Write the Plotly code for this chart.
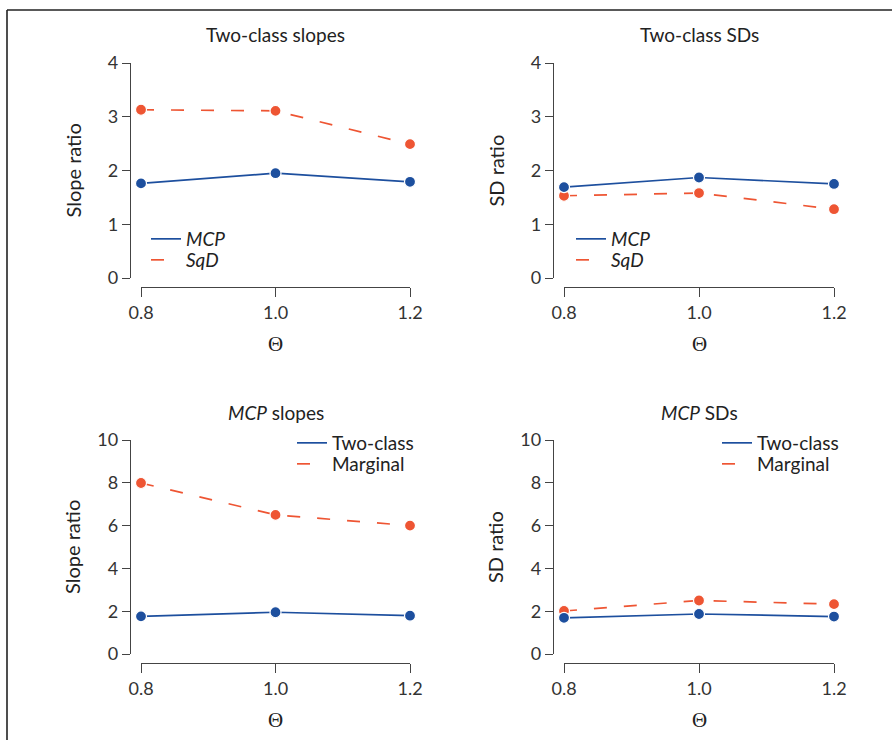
import plotly.graph_objects as go

W, H = 892, 740

theta = [0.8, 1.0, 1.2]
theta_ticks = ["0.8", "1.0", "1.2"]

# Panel 1: Two-class slopes
slope_mcp = [1.76, 1.95, 1.79]
slope_sqd = [3.13, 3.11, 2.49]
# Panel 2: Two-class SDs
sd_mcp = [1.69, 1.87, 1.75]
sd_sqd = [1.53, 1.58, 1.28]
# Panel 3: MCP slopes
mcp_slope_twoclass = [1.76, 1.95, 1.79]
mcp_slope_marginal = [7.99, 6.50, 6.00]
# Panel 4: MCP SDs
mcp_sd_twoclass = [1.69, 1.87, 1.75]
mcp_sd_marginal = [2.01, 2.50, 2.33]

titles = ["Two-class slopes", "Two-class SDs", "<i>MCP</i> slopes", "<i>MCP</i> SDs"]
ytitles = ["Slope ratio", "SD ratio", "Slope ratio", "SD ratio"]
legend_names = [["<i>MCP</i>", "<i>SqD</i>"], ["<i>MCP</i>", "<i>SqD</i>"],
                ["Two-class", "Marginal"], ["Two-class", "Marginal"]]
yticks_small = [0, 1, 2, 3, 4]
yticks_big = [0, 2, 4, 6, 8, 10]

BLUE = "#1d4f9e"
RED = "#ee5533"
AXC = "#444444"
FONT = "Lato"

def px(x):
    return x / W

def py(y):
    return 1 - y / H

# pixel layout of each panel: (yaxis x, x0, x1, ytop, ybot, xaxis y)
panels = [
    (130, 141, 410, 63, 278, 287),
    (553, 564, 834, 63, 278, 287),
    (130, 141, 410, 440, 654, 663),
    (553, 564, 834, 440, 654, 663),
]
series = [
    (slope_mcp, slope_sqd),
    (sd_mcp, sd_sqd),
    (mcp_slope_twoclass, mcp_slope_marginal),
    (mcp_sd_twoclass, mcp_sd_marginal),
]
yranges = [[0, 4], [0, 4], [0, 10], [0, 10]]
yticks = [yticks_small, yticks_small, yticks_big, yticks_big]
# legend entry pixel positions (left, top of first entry, top of second entry)
legpos = [(146, 220, 241), (571, 220, 241), (292, 424, 445), (717, 424, 445)]

fig = go.Figure()
layout = dict(
    width=W, height=H,
    margin=dict(l=0, r=0, t=0, b=0, autoexpand=False),
    paper_bgcolor="white", plot_bgcolor="rgba(0,0,0,0)",
    font=dict(family=FONT, size=18, color="#222222"),
    showlegend=True,
)
annotations = []
for i, (ya_x, x0, x1, yt, yb, xa_y) in enumerate(panels):
    n = "" if i == 0 else str(i + 1)
    xa, yaname = "x" + n, "y" + n
    s1, s2 = series[i]
    lx, ly1, ly2 = legpos[i]
    for j, (vals, color, dash, name, ly) in enumerate(
            [(s1, BLUE, "solid", legend_names[i][0], ly1),
             (s2, RED, "13px,17px", legend_names[i][1], ly2)]):
        k = 2 * i + j
        leg = "legend" if k == 0 else "legend" + str(k + 1)
        fig.add_trace(go.Scatter(x=theta, y=vals, mode="lines", name=name,
                                 line=dict(color=color, width=1.7, dash=dash),
                                 xaxis=xa, yaxis=yaname, legend=leg, cliponaxis=False))
        layout[leg] = dict(x=px(lx), y=py(ly), xanchor="left", yanchor="top",
                           bgcolor="rgba(0,0,0,0)", borderwidth=0,
                           font=dict(size=19, color="#222222"))
    for vals, color in [(s2, RED), (s1, BLUE)]:
        fig.add_trace(go.Scatter(x=theta, y=vals, mode="markers", showlegend=False,
                                 marker=dict(color=color, size=11, line=dict(color="white", width=1.2)),
                                 xaxis=xa, yaxis=yaname, cliponaxis=False))
    layout["xaxis" + n] = dict(
        domain=[px(x0), px(x1)], range=[0.8, 1.2], anchor="free", position=py(xa_y),
        tickvals=theta, ticktext=theta_ticks, ticks="outside", ticklen=9, tickwidth=1.3,
        tickcolor=AXC, showline=True, linecolor=AXC, linewidth=1.3, showgrid=False,
        zeroline=False, tickfont=dict(size=18, color="#333333"), fixedrange=True,
    )
    layout["yaxis" + n] = dict(
        domain=[py(yb), py(yt)], range=yranges[i], anchor="free", position=px(ya_x),
        tickvals=yticks[i], ticks="outside", ticklen=8, tickwidth=1.3,
        tickcolor=AXC, showline=True, linecolor=AXC, linewidth=1.3, showgrid=False,
        zeroline=False, tickfont=dict(size=18, color="#333333"), fixedrange=True,
    )
    cx = (x0 + x1) / 2
    common = dict(xref="paper", yref="paper", showarrow=False, xanchor="center", yanchor="middle")
    annotations.append(dict(text=titles[i], x=px(cx), y=py(yt - 28),
                            font=dict(size=19, color="#222222"), **common))
    annotations.append(dict(text=ytitles[i], x=px(ya_x - 58), y=py((yt + yb) / 2), textangle=-90,
                            font=dict(size=20, color="#222222"), **common))
    annotations.append(dict(text="\u0398", x=px(cx), y=py(xa_y + 57),
                            font=dict(size=21, family="Liberation Serif", color="#222222"), **common))

layout["annotations"] = annotations
layout["shapes"] = [
    dict(type="line", xref="paper", yref="paper", x0=px(7), x1=1.0, y0=py(10), y1=py(10),
         line=dict(color="#222222", width=1.6)),
    dict(type="line", xref="paper", yref="paper", x0=px(7), x1=px(7), y0=py(10), y1=0,
         line=dict(color="#222222", width=1.6)),
]
fig.update_layout(**layout)
fig.write_html("out.html", config={"displayModeBar": False},
               post_script="document.body.style.margin='0px';")
